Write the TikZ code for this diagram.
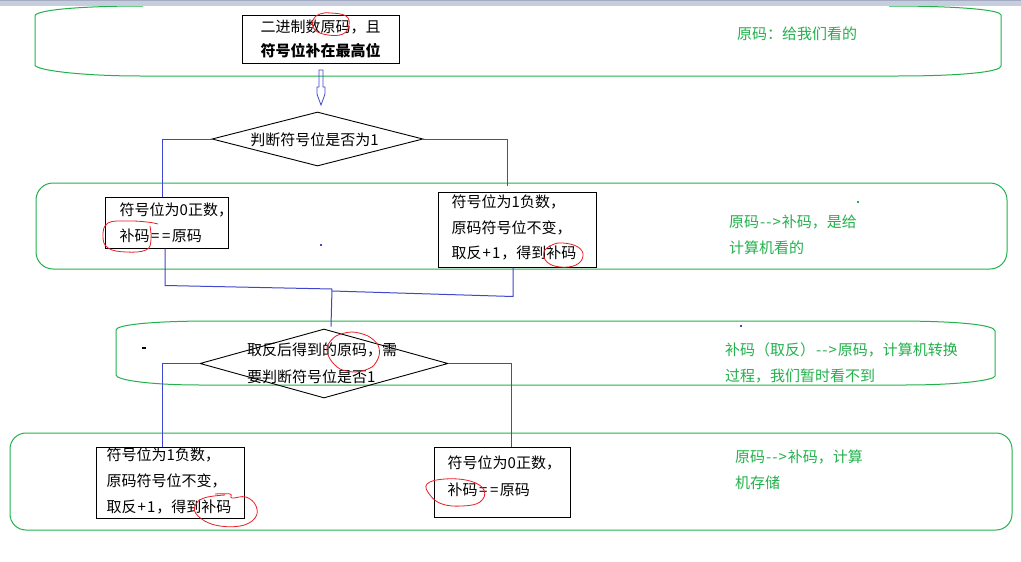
\documentclass[tikz,border=0pt]{standalone}
\usepackage{fontspec}
\setmainfont{Noto Sans CJK SC}
\usetikzlibrary{shapes.geometric}
\definecolor{grn}{HTML}{22B14C}
\definecolor{blu}{HTML}{3F48CC}
\definecolor{rd}{HTML}{ED1C24}
\definecolor{barc}{HTML}{C6CDDD}
\definecolor{barl}{HTML}{A3ABC2}
\newcommand{\eqq}{\kern1.5pt=\kern2.5pt=\kern1.5pt}
\newcommand{\plusone}{\kern1pt+\kern1pt1\kern1pt}
\newcommand{\arr}{\kern1pt-\kern1pt-\kern1pt>\kern1pt}
\begin{document}
\begin{tikzpicture}[x=1pt,y=-1pt,
  band/.style={draw=grn, line width=1pt},
  conn/.style={draw=blu, line width=1pt},
  boxnode/.style={draw=black, line width=1pt, inner sep=0, rectangle},
  dia/.style={draw=black, line width=0.9pt, inner sep=0, diamond},
  txt/.style={font=\fontsize{15}{#1}\selectfont, inner sep=0, align=left, text=black},
  txt/.default=26,
  gtxt/.style={txt=#1, text=grn},
  gtxt/.default=26,
  redloop/.style={draw=rd, line width=0.8pt}]
\useasboundingbox (0,0) rectangle (1021,562);
\fill[white] (0,0) rectangle (1021,562);

% ---- green bands ----
\draw[band] (143,6) .. controls (80,6) and (35,10) .. (35,16) -- (35,65)
  .. controls (35,70) and (80,76) .. (140,76) -- (898,76)
  .. controls (960,76) and (1001,72) .. (1001,66) -- (1001,15)
  .. controls (1001,10) and (960,6) .. (889,6);
\draw[band] (36,183) [rounded corners=17pt] rectangle (1007,269);
\draw[band] (213,321) -- (893,321) .. controls (960,321) and (995,325) .. (995,331)
  -- (995,376) .. controls (995,380) and (960,385) .. (905,385) -- (200,385)
  .. controls (150,385) and (116,380) .. (116,375) -- (116,330)
  .. controls (116,325) and (150,321) .. (213,321) -- cycle;
\draw[band] (10,433) [rounded corners=16pt] rectangle (1012,530);

% ---- top bar ----
\fill[barc] (0,0) rectangle (1021,5.5);
\fill[barl] (0,0) rectangle (1021,1);

% ---- boxes and diamonds ----
\node[boxnode, minimum width=157, minimum height=48, txt=24, align=center] (top) at (320.5,39)
  {二进制数原码，且\\{\bfseries 符号位补在最高位}};

\node[dia, minimum width=211, minimum height=54] (d1) at (317.5,139) {};
\node[txt] (d1t) at ([xshift=-3pt,yshift=-1pt]d1.center) {判断符号位是否为1};

\node[boxnode, minimum width=123, minimum height=51] (b0) at (166.5,222.5) {};
\node[txt=26, anchor=west] (b0t) at ([xshift=15pt]b0.west) {符号位为0正数，\\补码\eqq 原码};

\node[boxnode, minimum width=158, minimum height=75] (b1) at (517,229.5) {};
\node[txt=25.5, anchor=west] (b1t) at ([xshift=14pt,yshift=2pt]b1.west) {符号位为1负数，\\原码符号位不变，\\取反\plusone，得到补码};

\node[dia, minimum width=248, minimum height=69] (d2) at (324,363.5) {};
\node[txt=27, anchor=west] (d2t) at (247,363.5) {取反后得到的原码，需\\要判断符号位是否1};

\node[boxnode, minimum width=148, minimum height=71] (b2) at (170,482.5) {};
\node[txt=26, anchor=west] (b2t) at ([xshift=11pt,yshift=1.5pt]b2.west) {符号位为1负数，\\原码符号位不变，\\取反\plusone，得到补码};

\node[boxnode, minimum width=136, minimum height=70] (b3) at (502,482) {};
\node[txt=27, anchor=west] (b3t) at ([xshift=14pt,yshift=5.5pt]b3.west) {符号位为0正数，\\补码\eqq 原码};

% ---- green notes ----
\node[gtxt, anchor=west] (g1) at (737,34) {原码：给我们看的};
\node[gtxt=26, anchor=west] (g2) at (729,235) {原码\arr 补码，是给\\计算机看的};
\node[gtxt=26, anchor=west] (g3) at (725,363) {补码（取反）\arr 原码，计算机转换\\过程，我们暂时看不到};
\node[gtxt=26, anchor=west] (g4) at (735,470) {原码\arr 补码，计算\\机存储};

% ---- hollow arrow ----
\draw[blu, line width=0.8pt] (319,70) -- (323,70) -- (323,87) -- (325,87) -- (325,94)
  -- (322.5,101) -- (321,105) -- (319.5,101) -- (317,94) -- (317,87) -- (319,87) -- cycle;

% ---- connectors ----
\draw[conn] (d1.west) -| ([xshift=-4.5pt]b0.north);
\draw[conn] (d1.east) -| ([xshift=-10pt,yshift=6pt]b1.north);
\coordinate (m) at (332,289);
\draw[conn] ([xshift=-1.5pt]b0.south) -- ++(0,37) -- (m);
\draw[conn] ([xshift=-4pt]b1.south) -- ++(0,29) -- ([yshift=-2pt]m);
\draw[conn] (m) -- ([xshift=7pt,yshift=2pt]d2.north);
\draw[conn] (d2.west) -| ([xshift=-8pt]b2.north);
\draw[conn] (d2.east) -| ([xshift=9pt]b3.north);

% ---- red hand-drawn loops ----
\draw[redloop] plot[smooth cycle, tension=0.7] coordinates {(331,13) (346,16) (349,25) (343,34) (328,35) (315,30) (313,20) (320,14)};
\draw[redloop] plot[smooth, tension=0.7] coordinates {(158,224) (147,222) (128,221) (108,223) (103,236) (108,248) (126,252) (146,250) (151,240) (150,226)};
\draw[redloop] plot[smooth cycle, tension=0.7] coordinates {(563,243) (578,247) (583,256) (576,265) (560,267) (547,262) (544,252) (552,245)};
\draw[redloop] plot[smooth cycle, tension=0.5] coordinates {(352,332) (368,336) (378,345) (379,356) (372,367) (356,372) (340,369) (330,359) (327,347) (336,336)};
\draw[redloop] plot[smooth, tension=0.7] coordinates {(215,494) (230,494) (232,498) (246,497) (256,506) (255,518) (240,526) (215,525) (198,516) (195,506) (204,498) (225,495)};
\draw[redloop] plot[smooth cycle, tension=0.7] coordinates {(445,479) (470,481) (484,490) (480,502) (462,506) (442,504) (430,495) (427,484)};

% ---- small stray marks ----
\fill[grn] (857,201) rectangle (859,203);
\fill[blu] (320,244) rectangle (322,246);
\fill[black] (142,347) rectangle (146,349);
\fill[blu] (740,325) rectangle (742,327);
\end{tikzpicture}
\end{document}
